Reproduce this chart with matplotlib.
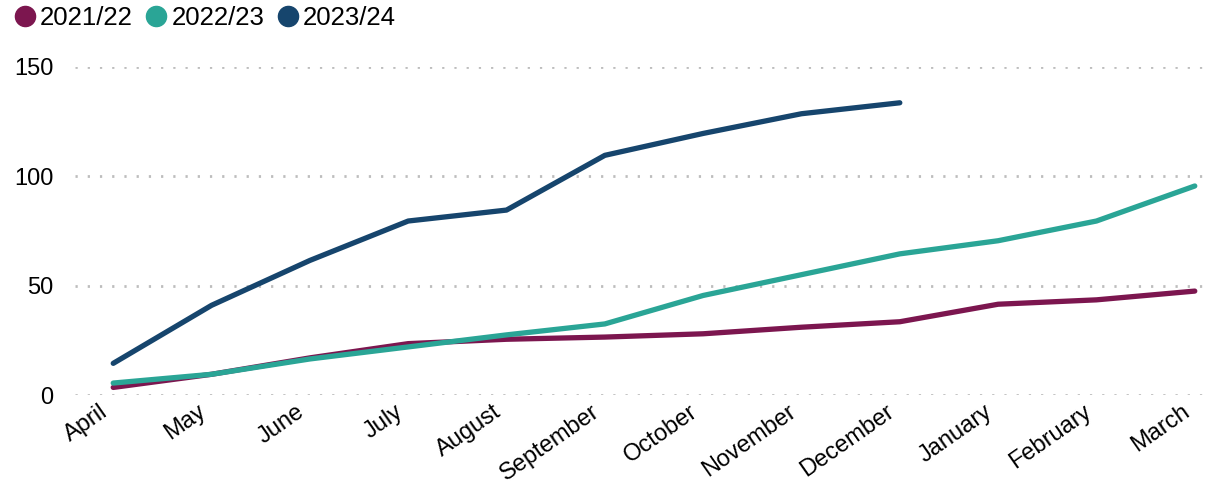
import matplotlib.pyplot as plt
import matplotlib.transforms as mtransforms
from matplotlib.lines import Line2D

plt.rcParams['font.family'] = ['Liberation Sans', 'DejaVu Sans']

months = ['April', 'May', 'June', 'July', 'August', 'September', 'October',
          'November', 'December', 'January', 'February', 'March']
fy_2122 = [3.5, 9.5, 17, 23.5, 25.5, 26.5, 28, 31, 33.5, 41.5, 43.5, 47.5]
fy_2223 = [5.5, 9.5, 16.5, 22, 27.5, 32.5, 45.5, 55, 64.5, 70.5, 79.5, 95.5]
fy_2324 = [14.5, 41, 61.5, 79.5, 84.5, 109.5, 119.5, 128.5, 133.5]
yticks = [0, 50, 100, 150]

labels = ['2021/22', '2022/23', '2023/24']
colours = ['#7c164f', '#2aa596', '#16456d']

fig = plt.figure(figsize=(12.08, 4.83), dpi=100)
ax = fig.add_axes([0.062, 0.182, 0.936, 0.680])

for series, lab, col in zip([fy_2122, fy_2223, fy_2324], labels, colours):
    ax.plot(range(len(series)), series, color=col, lw=3.8, label=lab,
            solid_capstyle='round', solid_joinstyle='round', clip_on=False)

ax.set_xlim(-0.39, 11.11)
ax.set_ylim(0, 150)
ax.set_yticks(yticks)
ax.set_xticks(range(len(months)))
ax.set_xticklabels(months, rotation=35, ha='right', rotation_mode='anchor')
ax.tick_params(axis='both', length=0, labelsize=17)
ax.tick_params(axis='x', pad=4)
ax.tick_params(axis='y', pad=15.5)

# nudge month labels to the left of their tick
shift = mtransforms.ScaledTranslation(-0.14, 0, fig.dpi_scale_trans)
for t in ax.get_xticklabels():
    t.set_transform(t.get_transform() + shift)

ax.grid(axis='y', color='#bdbdbd', linestyle=(0, (0.8, 3.6)), linewidth=2)
ax.set_axisbelow(True)
for s in ax.spines.values():
    s.set_visible(False)

handles = [Line2D([0], [0], marker='o', color='w', markerfacecolor=c,
                  markeredgecolor=c, markersize=14.5, label=l)
           for c, l in zip(colours, labels)]
fig.legend(handles=handles, loc='upper left', bbox_to_anchor=(0.012, 0.988),
           ncol=3, frameon=False, fontsize=18.5, handlelength=0.8,
           handletextpad=0.18, columnspacing=0.53, borderaxespad=0, borderpad=0)

fig.savefig('out.png', dpi=100)
